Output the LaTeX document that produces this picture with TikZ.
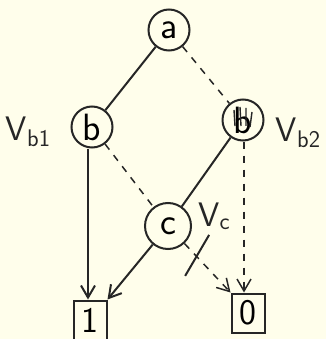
\documentclass[tikz,border=0pt]{standalone}
\usetikzlibrary{arrows.meta,calc}
\begin{document}
\begin{tikzpicture}[x=1pt,y=-1pt,
  ink/.style={line width=2pt, draw=black!85},
  vert/.style={ink, circle, minimum size=41pt, inner sep=0pt, font=\sffamily\fontsize{38}{38}\selectfont},
  leaf/.style={ink, rectangle, minimum width=33pt, minimum height=39pt, inner sep=0pt, font=\sffamily\fontsize{36}{36}\selectfont},
  hi/.style={ink},
  lo/.style={ink, dash pattern=on 7pt off 7pt, line width=1.5pt},
  tip/.style={-{Straight Barb[length=12pt,width=14pt]}},
  lbl/.style={font=\sffamily\fontsize{34}{34}\selectfont, text=black!85, inner sep=0pt}]
\fill[yellow!8!white] (0,0) rectangle (326,339);
\useasboundingbox (0,0) rectangle (326,339);

% vertices
\node[vert] (a) at (169,30) {a};
\node[vert] (b) at (92,127) {b};
\node[vert] (bb) at (243,120) {b};
\node[vert, minimum size=46pt] (c) at (168,226) {c};

% terminals
\node[leaf] (one) at (90,320) {1};
\node[leaf] (zero) at (248,313) {0};

% labels
\node[lbl] (lb1) at (28,132) {V\raisebox{-6pt}{\fontsize{24}{24}\selectfont b1}};
\node[lbl] (lb2) at (298,133) {V\raisebox{-6pt}{\fontsize{24}{24}\selectfont b2}};
\node[lbl] (lc) at (214,216) {V\raisebox{-3pt}{\fontsize{24}{24}\selectfont c}};

% scribble over the second b
\draw[ink, line width=1.4pt] ([shift={(-9,-10)}]bb.center) -- ([shift={(-8,6)}]bb.center)
  ([shift={(-3,-13)}]bb.center) -- ([shift={(-2,6)}]bb.center)
  ([shift={(3,-12)}]bb.center) -- ([shift={(3,6)}]bb.center)
  ([shift={(9,-8)}]bb.center) -- ([shift={(7,7)}]bb.center);

% edges
\draw[hi] (a) -- (b);
\draw[lo] (a) -- (bb);
\draw[hi, tip] (b.south) ++(-4,0) coordinate (bs) (bs) -- (one.north -| bs);
\draw[lo] (b) -- (c);
\draw[hi] (bb) -- (c);
\draw[lo, tip] (bb.south) ++(1,0) coordinate (bbs) (bbs) -- (zero.north -| bbs);
\draw[hi, tip] (c) -- (one.north east);
\draw[lo, tip] (c) -- (zero.north west);

% cross mark on the low edge of c
\coordinate (xm) at ($(c)!0.45!(zero.north west)$);
\draw[ink] ([shift={(13,-21)}]xm) -- ([shift={(-11,20)}]xm);
\end{tikzpicture}
\end{document}
